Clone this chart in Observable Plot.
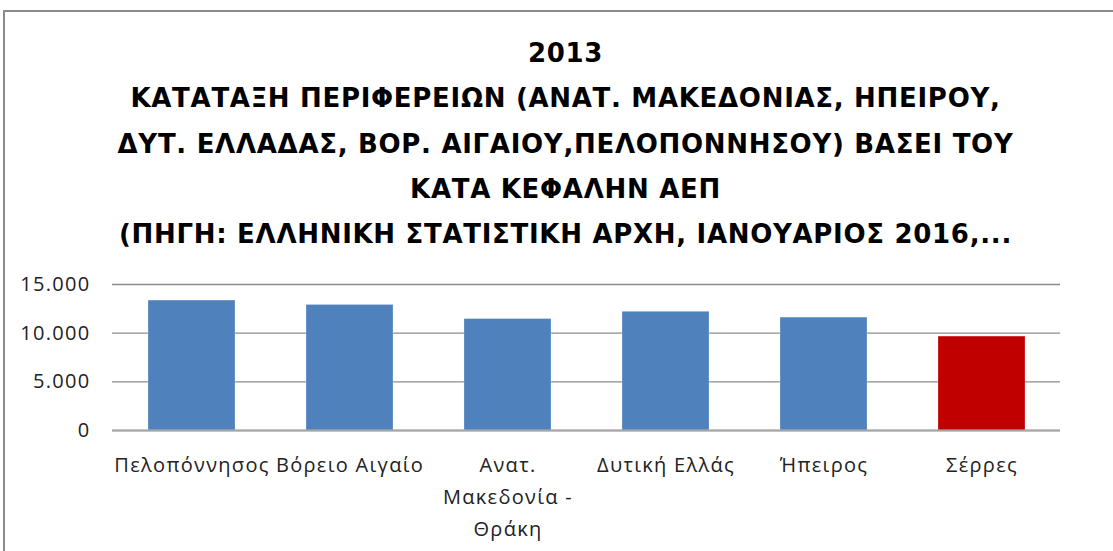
<!DOCTYPE html>
<html>
<head>
<meta charset="utf-8">
<script src="https://cdn.jsdelivr.net/npm/d3@7"></script>
<script src="https://cdn.jsdelivr.net/npm/@observablehq/plot@0.6"></script>
<style>
  html, body { margin: 0; padding: 0; background: #fff; overflow: hidden; }
  #frame { position: absolute; left: 3px; top: 10px; width: 1120px; height: 560px; border: 2px solid #8a8a8a; box-sizing: border-box; }
  #title { position: absolute; left: 0; top: 31px; width: 1131px; text-align: center;
           font-family: "DejaVu Sans", sans-serif; letter-spacing: 0.7px;
           font-weight: bold; font-size: 26px; line-height: 45.3px; color: #000; }
  #chart { position: absolute; left: 0; top: 260px; }
</style>
</head>
<body>
<div id="frame"></div>
<div id="title"></div>
<div id="chart"></div>
<script>
const titleLines = [
  "2013",
  "ΚΑΤΑΤΑΞΗ ΠΕΡΙΦΕΡΕΙΩΝ (ΑΝΑΤ. ΜΑΚΕΔΟΝΙΑΣ, ΗΠΕΙΡΟΥ,",
  "ΔΥΤ. ΕΛΛΑΔΑΣ, ΒΟΡ. ΑΙΓΑΙΟΥ,ΠΕΛΟΠΟΝΝΗΣΟΥ) ΒΑΣΕΙ ΤΟΥ",
  "ΚΑΤΑ ΚΕΦΑΛΗΝ ΑΕΠ",
  "(ΠΗΓΗ: ΕΛΛΗΝΙΚΗ ΣΤΑΤΙΣΤΙΚΗ ΑΡΧΗ, ΙΑΝΟΥΑΡΙΟΣ 2016,..."
];
const categories = ["Πελοπόννησος", "Βόρειο Αιγαίο", "Ανατ.\nΜακεδονία -\nΘράκη", "Δυτική Ελλάς", "Ήπειρος", "Σέρρες"];
const values = [13350, 12900, 11450, 12200, 11600, 9650];
const barColors = ["#4F81BD", "#4F81BD", "#4F81BD", "#4F81BD", "#4F81BD", "#C00000"];
const yTicks = [0, 5000, 10000, 15000];

document.getElementById("title").innerHTML = titleLines.map(t => `<div>${t}</div>`).join("");

const data = categories.map((c, i) => ({category: c, value: values[i], color: barColors[i]}));
const fmt = d => d3.format(",")(d).replace(/,/g, ".");

const chart = Plot.plot({
  width: 1113,
  height: 291,
  marginTop: 24,
  marginBottom: 121,
  marginLeft: 112,
  marginRight: 53,
  style: {fontFamily: '"Open Sans", sans-serif', fontSize: "20px", letterSpacing: "1.3px", color: "#000", background: "transparent"},
  x: {domain: categories, paddingInner: 0.45, paddingOuter: 0.225, label: null},
  y: {domain: [0, 15000], label: null},
  marks: [
    Plot.gridY(yTicks, {stroke: "#8c8c8c", strokeOpacity: 1, strokeWidth: 1.3}),
    Plot.barY(data, {x: "category", y: "value", fill: "color", stroke: "#ffffff", strokeOpacity: 0.5, strokeWidth: 0.5}),
    Plot.ruleY([0], {stroke: "#a6a6a6", strokeWidth: 2}),
    Plot.axisY(yTicks, {tickSize: 0, tickPadding: 22, tickFormat: fmt, fontSize: 20, fill: "#222"}),
    Plot.axisX({tickSize: 0, tickPadding: 18, fontSize: 20, lineHeight: 1.62, fill: "#222"})
  ]
});
document.getElementById("chart").appendChild(chart);
</script>
</body>
</html>
